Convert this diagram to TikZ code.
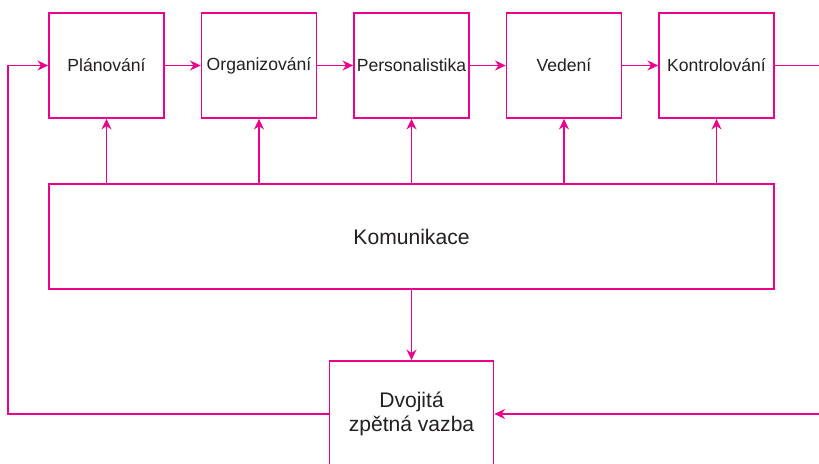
\documentclass[tikz,border=0pt]{standalone}
\usepackage{fontspec}
\setmainfont{Liberation Sans}
\usetikzlibrary{arrows.meta}
\definecolor{linkpink}{RGB}{236,0,140}
\definecolor{textgray}{RGB}{35,31,32}

\begin{document}
\begin{tikzpicture}[x=0.025cm,y=-0.025cm]

\tikzset{box/.style={draw=linkpink, line width=1.2pt, inner sep=2pt, text=textgray, font=\fontsize{12.5}{15}\selectfont, minimum width=2.875cm, minimum height=2.625cm}};
\tikzset{flow/.style={draw=linkpink, line width=1.2pt, -{Stealth[length=7.5pt,width=7pt]}}};
\clip (0,0) rectangle (819,464);

\node[box] (plan) at (106.5,65.5) {Plánování};
\node[box] (org) at (259,65.5) {Organizování};
\node[box] (pers) at (411.5,65.5) {Personalistika};
\node[box] (ved) at (564,65.5) {Vedení};
\node[box] (kontr) at (716.5,65.5) {Kontrolování};
\node[box, minimum width=18.125cm, font=\fontsize{15}{18}\selectfont] (kom) at (411.5,236.5) {Komunikace};
\node[box, minimum width=4.1cm, minimum height=2.65cm, align=center, font=\fontsize{15}{17.5}\selectfont] (dvoj) at (411.5,414) {Dvojitá\\zpětná vazba};

\coordinate (out) at (819,65.5);
\coordinate (fbl) at (8,414);
\coordinate (fbr) at (819,414);

\draw[flow] (plan) -- (org);
\draw[flow] (org) -- (pers);
\draw[flow] (pers) -- (ved);
\draw[flow] (ved) -- (kontr);
\draw[linkpink, line width=1.2pt] (kontr) -- (out);

\draw[flow] (kom.north -| plan) -- (plan.south);
\draw[flow] (kom.north -| org) -- (org.south);
\draw[flow] (kom.north -| pers) -- (pers.south);
\draw[flow] (kom.north -| ved) -- (ved.south);
\draw[flow] (kom.north -| kontr) -- (kontr.south);

\draw[flow] (kom) -- (dvoj);
\draw[flow] (dvoj.west) -- (fbl) |- (plan.west);
\draw[flow] (fbr) -- (dvoj.east);

\end{tikzpicture}
\end{document}
